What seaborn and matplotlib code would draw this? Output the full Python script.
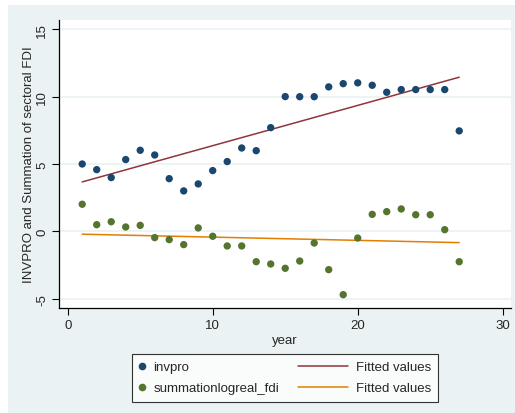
import numpy as np
import pandas as pd
import seaborn as sns
import matplotlib
matplotlib.use("Agg")
import matplotlib.pyplot as plt
from matplotlib.patches import Rectangle
from matplotlib.lines import Line2D
from matplotlib.legend_handler import HandlerBase

year = list(range(1, 28))
invpro = [5.00, 4.58, 3.99, 5.33, 6.02, 5.67, 3.91, 3.00, 3.52, 4.51,
          5.18, 6.19, 5.99, 7.70, 10.01, 10.00, 10.00, 10.73, 10.97, 11.03,
          10.85, 10.33, 10.53, 10.53, 10.53, 10.53, 7.46]
summation_fdi = [2.01, 0.49, 0.71, 0.32, 0.44, -0.47, -0.62, -0.99, 0.25, -0.37,
                 -1.09, -1.09, -2.26, -2.43, -2.75, -2.21, -0.87, -2.85, -4.71, -0.50,
                 1.26, 1.46, 1.66, 1.23, 1.23, 0.12, -2.26]
y_ticks = [-5, 0, 5, 10, 15]
x_ticks = [0, 10, 20, 30]

df = pd.DataFrame({"year": year, "invpro": invpro, "summationlogreal_fdi": summation_fdi})

NAVY = "#1A476F"
MAROON = "#90353B"
GREEN = "#55752F"
ORANGE = "#E37E00"
BG = "#EAF2F3"

sns.set_theme(style="white")
plt.rcParams["font.family"] = ["Liberation Sans", "DejaVu Sans"]


class MarkerLeft(HandlerBase):
    def create_artists(self, legend, orig_handle, xdescent, ydescent, width, height, fontsize, trans):
        m = Line2D([-xdescent + 2.2], [height / 2 - ydescent], marker="o", ls="none",
                   color=orig_handle.get_color(), markersize=orig_handle.get_markersize(),
                   transform=trans)
        return [m]


class LineRight(HandlerBase):
    def create_artists(self, legend, orig_handle, xdescent, ydescent, width, height, fontsize, trans):
        end = width - xdescent - 3.0
        l = Line2D([end - 35.5, end], [height / 2 - ydescent] * 2,
                   color=orig_handle.get_color(), lw=orig_handle.get_linewidth(),
                   transform=trans)
        return [l]


fig = plt.figure(figsize=(5.15, 4.14), dpi=100, facecolor="white")
fig.patches.append(Rectangle((8 / 515, 0), 1 - 8 / 515, 1 - 6 / 414,
                             transform=fig.transFigure, facecolor=BG,
                             edgecolor="none", zorder=-10))
ax = fig.add_axes([59.3 / 515, 1 - 309 / 414, (510.7 - 59.3) / 515, (309 - 21) / 414])
ax.set_facecolor("white")

for yt in y_ticks:
    ax.axhline(yt, color=BG, lw=1.2, zorder=0)

sns.scatterplot(data=df, x="year", y="invpro", color=NAVY, s=28, edgecolor="none", ax=ax, zorder=3)
sns.scatterplot(data=df, x="year", y="summationlogreal_fdi", color=GREEN, s=28, edgecolor="none", ax=ax, zorder=3)
sns.regplot(data=df, x="year", y="invpro", scatter=False, ci=None, ax=ax,
            line_kws=dict(color=MAROON, lw=1.1, zorder=2))
sns.regplot(data=df, x="year", y="summationlogreal_fdi", scatter=False, ci=None, ax=ax,
            line_kws=dict(color=ORANGE, lw=1.1, zorder=2))

ax.set_xlim(-0.58, 30.55)
ax.set_ylim(-5.7, 15.7)
ax.set_xticks(x_ticks)
ax.set_yticks(y_ticks)
ax.set_yticklabels([str(t) for t in y_ticks], rotation=90, va="center")
ax.tick_params(axis="both", which="both", direction="out", length=5, width=0.8,
               color="black", labelsize=9.5, left=True, bottom=True, pad=3)
for side in ["top", "right"]:
    ax.spines[side].set_visible(False)
for side in ["left", "bottom"]:
    ax.spines[side].set_color("black")
    ax.spines[side].set_linewidth(0.9)

ax.set_xlabel("year", fontsize=9.5, labelpad=2)
ax.set_ylabel("INVPRO and Summation of sectoral FDI", fontsize=9.5, labelpad=1)

mk1 = Line2D([], [], marker="o", ls="none", color=NAVY, markersize=4.5)
mk2 = Line2D([], [], marker="o", ls="none", color=GREEN, markersize=4.5)
ln1 = Line2D([], [], color=MAROON, lw=1.1)
ln2 = Line2D([], [], color=ORANGE, lw=1.1)
handles = [mk1, mk2, ln1, ln2]
labels = ["invpro", "summationlogreal_fdi", "Fitted values", "Fitted values"]
leg = fig.legend(handles, labels, ncol=2, loc="center",
                 bbox_to_anchor=(285 / 515, 1 - 378.7 / 414),
                 frameon=True, fancybox=False, fontsize=9.5, handlelength=0.8,
                 columnspacing=4.7, handletextpad=0.3, borderpad=0.55, labelspacing=0.67,
                 borderaxespad=0,
                 handler_map={mk1: MarkerLeft(), mk2: MarkerLeft(),
                              ln1: LineRight(), ln2: LineRight()})
leg.get_frame().set_edgecolor("black")
leg.get_frame().set_linewidth(0.8)
leg.get_frame().set_facecolor("white")

fig.savefig("out.png", dpi=100, facecolor="white")
